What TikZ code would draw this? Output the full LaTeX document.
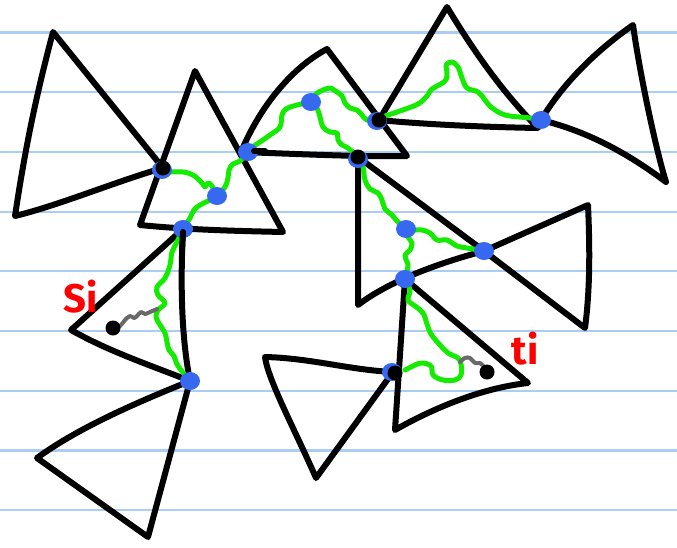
\documentclass[tikz,border=0pt]{standalone}
\usepackage{fontspec}
\usetikzlibrary{shapes.geometric,calc}
\newfontfamily\labfont{Fira Sans}
\definecolor{ruled}{RGB}{170,205,245}
\definecolor{dotblue}{RGB}{55,105,240}
\definecolor{wavegreen}{RGB}{20,235,0}
\definecolor{wavegray}{RGB}{105,105,105}
\definecolor{labred}{RGB}{255,0,0}
\begin{document}
\begin{tikzpicture}[x=1pt,y=-1pt,
  ruleline/.style={draw=ruled,line width=2.2pt},
  tri/.style={draw=black,line width=6pt,line join=round,line cap=round},
  wave/.style={draw=wavegreen,line width=5pt,line cap=round,line join=round},
  graywave/.style={draw=wavegray,line width=4pt,line cap=round,line join=round},
  bluedot/.style={ellipse,fill=dotblue,minimum width=20pt,minimum height=18pt,inner sep=0pt},
  blackdot/.style={circle,fill=black,minimum size=15pt,inner sep=0pt},
  lab/.style={text=labred,font=\labfont\bfseries\fontsize{40}{40}\selectfont,inner sep=0pt}]
\useasboundingbox (0,0) rectangle (677,547);
% ruled lines
\foreach \k in {0,...,8}{
  \draw[ruleline] (0,32.5+59.7*\k) -- (677,32.5+59.7*\k);
}
% key points
\coordinate (b1) at (163,168);
\coordinate (b2) at (217,196);
\coordinate (b3) at (183,229);
\coordinate (b4) at (248,152);
\coordinate (b5) at (311,102);
\coordinate (b6) at (379,120);
\coordinate (b7) at (358,157);
\coordinate (b8) at (541,120);
\coordinate (b9) at (406,229);
\coordinate (b10) at (484,251);
\coordinate (b11) at (405,279);
\coordinate (b12) at (393,372);
\coordinate (b13) at (190,381);
\coordinate (s) at (113,328);
\coordinate (t) at (487,372);
% triangle A
\coordinate (A1) at (53,32); \coordinate (A3) at (15,216);
\draw[tri] (A1) -- (b1) .. controls (120,180) and (60,205) .. (A3)
  .. controls (25,150) and (35,100) .. cycle;
% triangle B
\coordinate (B1) at (195,71); \coordinate (B2) at (140,225); \coordinate (B3) at (283,232);
\draw[tri] (B1) -- (B2) .. controls (190,230) and (240,231) .. (B3) -- cycle;
% triangle C
\coordinate (C1) at (327,49); \coordinate (C3) at (407,156);
\draw[tri] (C1) .. controls (295,66) and (262,102) .. (241,152)
  .. controls (300,154) and (360,157) .. (C3) -- cycle;
% triangle D
\coordinate (D1) at (447,7); \coordinate (D3) at (538,128);
\draw[tri] (b6) -- (D1) .. controls (470,45) and (500,90) .. (D3)
  .. controls (480,127) and (420,124) .. (b6) -- cycle;
% triangle E
\coordinate (E2) at (633,25); \coordinate (E3) at (666,182);
\draw[tri] (b8) .. controls (565,80) and (600,48) .. (E2)
  .. controls (640,75) and (656,150) .. (E3)
  .. controls (630,155) and (590,132) .. (b8) -- cycle;
% triangle F
\coordinate (F2) at (358,305);
\draw[tri] (b7) -- (F2) .. controls (380,288) and (420,268) .. (b10) -- cycle;
% triangle G
\coordinate (G2) at (588,205); \coordinate (G3) at (585,328);
\draw[tri] (b10) -- (G2) .. controls (590,250) and (590,290) .. (G3) -- cycle;
% triangle H
\coordinate (H2) at (395,430); \coordinate (H3) at (528,383);
\draw[tri] (b11) -- (H2) .. controls (430,410) and (480,388) .. (H3) -- cycle;
% triangle I
\coordinate (I1) at (265,357); \coordinate (I3) at (316,478);
\draw[tri] (I1) .. controls (310,358) and (350,370) .. (b12) -- (I3)
  .. controls (295,430) and (268,380) .. cycle;
% triangle J
\coordinate (J2) at (71,330);
\draw[tri] (b3) -- (J2) .. controls (110,352) and (150,365) .. (b13)
  .. controls (182,340) and (180,290) .. cycle;
% triangle K
\coordinate (K2) at (37,458); \coordinate (K3) at (148,537);
\draw[tri] (b13) .. controls (130,405) and (75,430) .. (K2) -- (K3) -- cycle;
% green wavy paths
\draw[wave] plot[smooth,tension=0.6] coordinates {(170,172) (183,172) (193,175) (202,183) (205,187) (208,183) (212,186) (217,196)};
\draw[wave] plot[smooth,tension=0.6] coordinates {(217,196) (225,187) (228,178) (229,170) (233,164) (240,161) (248,152)};
\draw[wave] plot[smooth,tension=0.6] coordinates {(217,196) (208,201) (200,205) (194,210) (190,218) (183,229)};
\draw[wave] plot[smooth,tension=0.6] coordinates {(254,146) (270,135) (280,127) (282,115) (286,109) (297,105) (311,102)};
\draw[wave] plot[smooth,tension=0.6] coordinates {(311,102) (316,94) (323,90) (330,88) (334,90) (342,96) (345,103) (350,108) (357,110) (362,115) (367,120) (379,120)};
\draw[wave] plot[smooth,tension=0.6] coordinates {(311,102) (317,108) (320,117) (323,127) (330,132) (337,133) (338,140) (342,145) (348,148) (358,157)};
\draw[wave] plot[smooth,tension=0.6] coordinates {(385,116) (400,111) (418,104) (427,96) (432,89) (445,81) (447,72) (446,65) (452,62) (458,67) (462,78) (467,88) (478,92) (485,100) (491,107) (505,115) (530,118) (541,120)};
\draw[wave] plot[smooth,tension=0.6] coordinates {(358,157) (363,167) (365,180) (370,189) (378,193) (382,200) (385,209) (392,215) (397,221) (406,229)};
\draw[wave] plot[smooth,tension=0.6] coordinates {(406,229) (415,230) (422,230) (430,233) (437,240) (447,240) (457,246) (467,248) (484,251)};
\draw[wave] plot[smooth,tension=0.6] coordinates {(406,229) (408,237) (412,243) (410,250) (405,255) (407,262) (408,266) (405,279)};
\draw[wave] plot[smooth,tension=0.6] coordinates {(405,279) (410,290) (408,300) (415,306) (423,313) (427,324) (431,334) (440,345) (448,353) (458,358) (461,364) (461,375) (455,380) (443,380) (433,375) (431,366) (421,363) (411,367) (405,370)};
\draw[wave] plot[smooth,tension=0.6] coordinates {(183,229) (177,242) (172,252) (170,265) (165,278) (157,287) (158,295) (165,303) (158,310) (156,317) (160,325) (165,333) (167,342) (169,350) (174,356) (178,366) (190,381)};
% gray wavy paths
\draw[graywave] plot[smooth,tension=0.6] coordinates {(s) (120,326) (125,320) (130,316) (134,318) (137,316) (141,312) (145,314) (150,312) (157,309)};
\draw[graywave] plot[smooth,tension=0.6] coordinates {(460,362) (465,358) (470,358) (475,363) (480,363) (485,368) (t)};
% dots
\node[bluedot] (d1) at ($(b1)+(-1,2)$) {};
\node[blackdot] (k1) at (b1) {};
\node[bluedot] (d2) at (b2) {};
\node[bluedot] (d3) at (b3) {};
\draw[tri] (183,232) -- (182,250);
\node[bluedot] (d4) at (b4) {};
\draw[tri] (254,151) -- (265,151);
\node[bluedot] (d5) at (b5) {};
\node[bluedot] (d6) at ($(b6)+(-2,1)$) {};
\node[blackdot] (k6) at (b6) {};
\node[bluedot] (d7) at ($(b7)+(0,2)$) {};
\node[blackdot] (k7) at (b7) {};
\node[bluedot] (d8) at (b8) {};
\node[bluedot] (d9) at (b9) {};
\node[bluedot] (d10) at (b10) {};
\node[bluedot] (d11) at (b11) {};
\node[bluedot] (d12) at ($(b12)+(-1,0)$) {};
\node[blackdot] (k12) at ($(b12)+(2,1)$) {};
\node[bluedot] (d13) at (b13) {};
\node[blackdot] (ks) at (s) {};
\node[blackdot] (kt) at (t) {};
% labels
\node[lab] (si) at (81,297) {Si};
\node[lab] (ti) at (525,349) {ti};
\end{tikzpicture}
\end{document}
